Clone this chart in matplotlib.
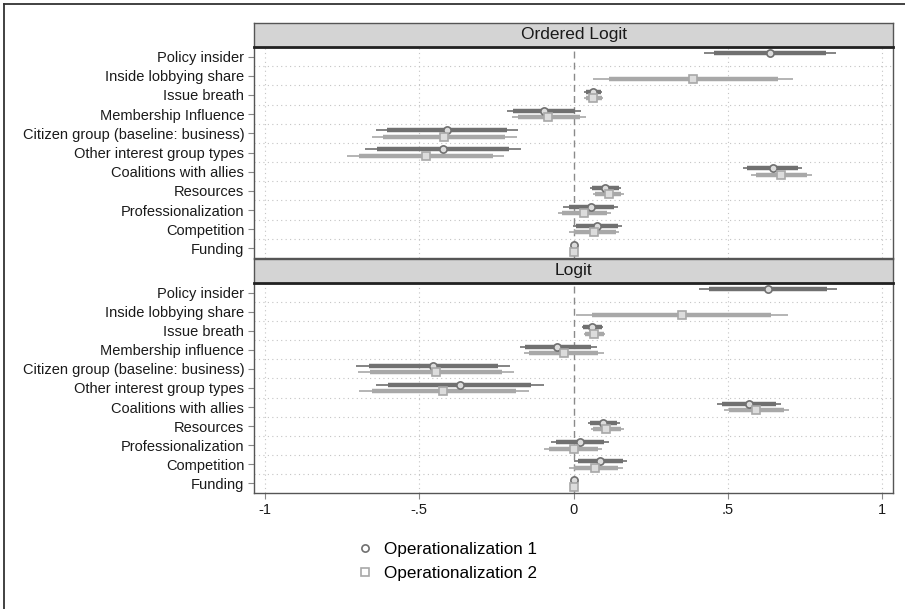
import numpy as np
import matplotlib
matplotlib.use("Agg")
import matplotlib.pyplot as plt
from matplotlib.lines import Line2D

plt.rcParams["font.family"] = ["Liberation Sans", "DejaVu Sans"]

nan = np.nan
labels_ol = ["Policy insider", "Inside lobbying share", "Issue breath", "Membership Influence",
             "Citizen group (baseline: business)", "Other interest group types",
             "Coalitions with allies", "Resources", "Professionalization", "Competition", "Funding"]
labels_l = ["Policy insider", "Inside lobbying share", "Issue breath", "Membership influence",
            "Citizen group (baseline: business)", "Other interest group types",
            "Coalitions with allies", "Resources", "Professionalization", "Competition", "Funding"]

# Ordered logit, operationalization 1
ol1_est = [0.638, nan, 0.062, -0.097, -0.409, -0.423, 0.647, 0.103, 0.056, 0.077, 0.0]
ol1_lo95 = [0.423, nan, 0.034, -0.215, -0.640, -0.675, 0.548, 0.054, -0.034, -0.003, -0.002]
ol1_hi95 = [0.852, nan, 0.092, 0.023, -0.181, -0.170, 0.742, 0.154, 0.144, 0.157, 0.002]
ol1_lo90 = [0.456, nan, 0.040, -0.195, -0.604, -0.638, 0.564, 0.060, -0.016, 0.009, -0.001]
ol1_hi90 = [0.819, nan, 0.088, 0.004, -0.215, -0.208, 0.728, 0.148, 0.130, 0.144, 0.001]
# Ordered logit, operationalization 2
ol2_est = [nan, 0.389, 0.064, -0.083, -0.420, -0.479, 0.674, 0.114, 0.035, 0.067, 0.0]
ol2_lo95 = [nan, 0.064, 0.035, -0.201, -0.654, -0.734, 0.577, 0.064, -0.051, -0.013, -0.002]
ol2_hi95 = [nan, 0.711, 0.095, 0.040, -0.184, -0.226, 0.772, 0.165, 0.123, 0.148, 0.002]
ol2_lo90 = [nan, 0.115, 0.040, -0.181, -0.617, -0.695, 0.593, 0.071, -0.038, 0.003, -0.001]
ol2_hi90 = [nan, 0.662, 0.091, 0.021, -0.221, -0.262, 0.756, 0.154, 0.110, 0.137, 0.001]
# Logit, operationalization 1
l1_est = [0.631, nan, 0.060, -0.054, -0.456, -0.369, 0.570, 0.097, 0.020, 0.085, 0.0]
l1_lo95 = [0.407, nan, 0.028, -0.174, -0.705, -0.640, 0.466, 0.047, -0.074, 0.000, -0.002]
l1_hi95 = [0.856, nan, 0.097, 0.077, -0.205, -0.097, 0.674, 0.152, 0.114, 0.174, 0.002]
l1_lo90 = [0.440, nan, 0.031, -0.157, -0.664, -0.600, 0.483, 0.054, -0.058, 0.013, -0.001]
l1_hi90 = [0.821, nan, 0.094, 0.058, -0.244, -0.137, 0.658, 0.141, 0.098, 0.161, 0.001]
# Logit, operationalization 2
l2_est = [nan, 0.352, 0.067, -0.032, -0.446, -0.423, 0.593, 0.107, 0.000, 0.071, 0.0]
l2_lo95 = [nan, 0.007, 0.034, -0.161, -0.698, -0.695, 0.487, 0.056, -0.097, -0.013, -0.002]
l2_hi95 = [nan, 0.695, 0.101, 0.098, -0.192, -0.145, 0.698, 0.165, 0.094, 0.161, 0.002]
l2_lo90 = [nan, 0.060, 0.038, -0.144, -0.660, -0.654, 0.503, 0.064, -0.081, 0.000, -0.001]
l2_hi90 = [nan, 0.640, 0.098, 0.078, -0.231, -0.185, 0.682, 0.154, 0.078, 0.145, 0.001]

xticks = [-1, -0.5, 0, 0.5, 1]
xticklabels = ["-1", "-.5", "0", ".5", "1"]
series_names = ["Operationalization 1", "Operationalization 2"]

C1, C2 = "#707070", "#a8a8a8"
GRID = "#c4c4c4"
W, H = 905, 609
fig = plt.figure(figsize=(W / 100, H / 100), dpi=100)


def fx(px):
    return px / W


def fy(py):
    return 1 - py / H


def draw_panel(ax, labels, s1, s2):
    n = len(labels)
    y = np.arange(n)
    for j, (est, lo95, hi95, lo90, hi90) in enumerate([s1, s2]):
        col = C1 if j == 0 else C2
        off = -0.17 if j == 0 else 0.17
        yy = y + off
        ax.hlines(yy, lo95, hi95, color=col, lw=1.2, zorder=3)
        ax.hlines(yy, lo90, hi90, color=col, lw=3.2, zorder=3)
        ax.plot(est, yy, ls="none", marker="o" if j == 0 else "s", ms=5.2,
                mfc="#dcdcdc", mec=col, mew=1.2, zorder=4)
    for b in np.arange(n - 1) + 0.5:
        ax.axhline(b, color=GRID, lw=0.8, ls=(0, (1, 3)), zorder=1)
    for v in [-1, -0.5, 0.5, 1]:
        ax.axvline(v, color=GRID, lw=0.8, ls=(0, (1, 3)), zorder=1)
    ax.axvline(0, color="#8a8a8a", lw=1.0, ls=(0, (5, 3)), zorder=2)
    ax.set_xlim(-1.036, 1.036)
    ax.set_ylim(n - 0.5, -0.5)
    ax.set_yticks(y)
    ax.set_yticklabels(labels, fontsize=10.5, color="#1a1a1a")
    ax.set_xticks(xticks)
    ax.tick_params(axis="both", direction="out", length=4, width=0.8, color="#888888", pad=3)
    for sp in ax.spines.values():
        sp.set_color("#555555")
        sp.set_linewidth(1.0)


def strip(rect, title):
    sax = fig.add_axes(rect)
    sax.set_facecolor("#d4d4d4")
    sax.set_xticks([])
    sax.set_yticks([])
    for sp in sax.spines.values():
        sp.set_color("#555555")
        sp.set_linewidth(1.0)
    sax.spines["bottom"].set_color("#222222")
    sax.spines["bottom"].set_linewidth(2.0)
    sax.text(0.5, 0.5, title, ha="center", va="center", fontsize=12.5, color="#1a1a1a",
             transform=sax.transAxes)


left, right = fx(254), fx(893)
ax1 = fig.add_axes([left, fy(258), right - left, fy(47) - fy(258)])
ax2 = fig.add_axes([left, fy(493), right - left, fy(283) - fy(493)])
strip([left, fy(47), right - left, fy(23) - fy(47)], "Ordered Logit")
strip([left, fy(283), right - left, fy(259) - fy(283)], "Logit")

draw_panel(ax1, labels_ol, (ol1_est, ol1_lo95, ol1_hi95, ol1_lo90, ol1_hi90),
           (ol2_est, ol2_lo95, ol2_hi95, ol2_lo90, ol2_hi90))
draw_panel(ax2, labels_l, (l1_est, l1_lo95, l1_hi95, l1_lo90, l1_hi90),
           (l2_est, l2_lo95, l2_hi95, l2_lo90, l2_hi90))
ax1.tick_params(axis="x", length=0, labelbottom=False)
ax2.set_xticklabels(xticklabels, fontsize=10.5, color="#1a1a1a")
ax2.tick_params(axis="x", pad=3)

handles = [Line2D([], [], ls="none", marker="o", ms=5.2, mfc="white", mec=C1, mew=1.2),
           Line2D([], [], ls="none", marker="s", ms=5.2, mfc="white", mec=C2, mew=1.2)]
fig.legend(handles, series_names, loc="upper left", bbox_to_anchor=(fx(356.5), fy(542)),
           frameon=False, fontsize=12.3, handlelength=1.0, handletextpad=0.6,
           labelspacing=0.55, borderaxespad=0, borderpad=0)

# outer frame (top and left edges)
fig.add_artist(Line2D([fx(4), 1], [fy(4), fy(4)], color="#333333", lw=1.3))
fig.add_artist(Line2D([fx(4), fx(4)], [fy(4), 0], color="#333333", lw=1.3))

fig.savefig("out.png", dpi=100)
